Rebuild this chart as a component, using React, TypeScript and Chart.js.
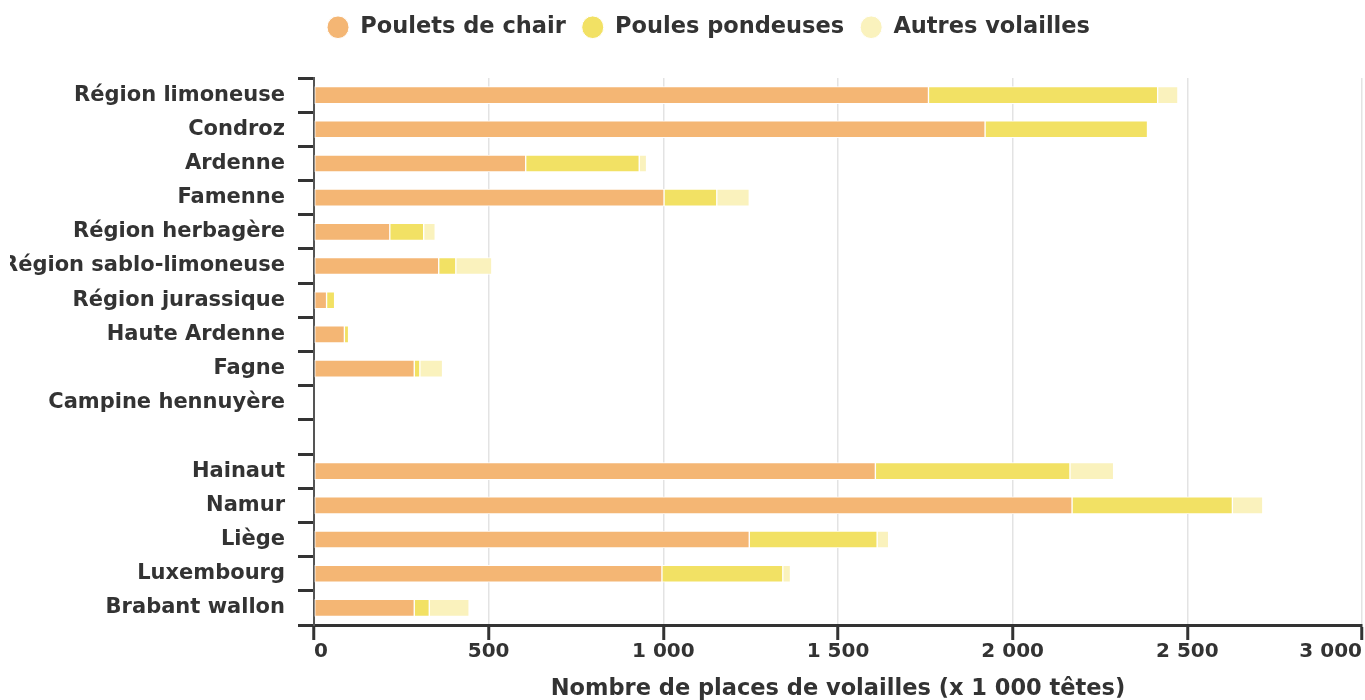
import React, { useEffect, useRef } from 'react';
import { Chart, registerables } from 'chart.js';

Chart.register(...registerables);

const categories = [
  'Région limoneuse',
  'Condroz',
  'Ardenne',
  'Famenne',
  'Région herbagère',
  'Région sablo-limoneuse',
  'Région jurassique',
  'Haute Ardenne',
  'Fagne',
  'Campine hennuyère',
  '',
  'Hainaut',
  'Namur',
  'Liège',
  'Luxembourg',
  'Brabant wallon',
];

const pouletsDeChair = [1759, 1921, 606, 1002, 217, 357, 36, 87, 287, 0, null, 1607, 2170, 1246, 996, 287];
const poulesPondeuses = [656, 465, 325, 151, 97, 49, 23, 12, 16, 0, null, 557, 459, 366, 346, 43];
const autresVolailles = [58, 0, 21, 93, 33, 103, 0, 0, 65, 0, null, 125, 87, 33, 22, 114];

const seriesNames = ['Poulets de chair', 'Poules pondeuses', 'Autres volailles'];
const seriesColors = ['#f4b674', '#f2e164', '#faf2bd'];

const xMin = 0;
const xMax = 3000;
const xStep = 500;
const xTitle = 'Nombre de places de volailles (x 1 000 têtes)';

const FONT = "'DejaVu Sans', sans-serif";
const TEXT = '#333333';

const formatThousands = (v: number) => String(v).replace(/\B(?=(\d{3})+(?!\d))/g, ' ');

const legendTweaks = {
  id: 'legendTweaks',
  beforeInit(chart: any) {
    const legend = chart.legend;
    if (!legend) return;
    const orig = legend.fit;
    legend.fit = function () {
      orig.bind(legend)();
      this.height += 29.5;
    };
  },
  afterLayout(chart: any) {
    const legend = chart.legend;
    if (!legend) return;
    legend.left += 22.5;
    legend.right += 22.5;
  },
};

export default function App() {
  const ref = useRef<HTMLCanvasElement | null>(null);

  useEffect(() => {
    if (!ref.current) return;
    const values = [pouletsDeChair, poulesPondeuses, autresVolailles];
    const chart = new Chart(ref.current, {
      type: 'bar',
      data: {
        labels: categories,
        datasets: values.map((d, i) => ({
          label: seriesNames[i],
          data: d,
          backgroundColor: seriesColors[i],
          borderColor: '#ffffff',
          borderWidth: 1,
          borderSkipped: false,
          barThickness: 17,
        })),
      },
      options: {
        indexAxis: 'y',
        animation: false,
        responsive: true,
        maintainAspectRatio: false,
        layout: { padding: { left: 0, right: 3, top: 0, bottom: 0 } },
        plugins: {
          legend: {
            position: 'top',
            align: 'center',
            labels: {
              usePointStyle: true,
              pointStyle: 'circle',
              boxHeight: 16,
              pointStyleWidth: 22,
              padding: 16,
              color: TEXT,
              font: { family: FONT, size: 22.5, weight: 'bold' },
            },
          },
          tooltip: { enabled: false },
        },
        scales: {
          x: {
            type: 'linear',
            stacked: true,
            min: xMin,
            max: xMax,
            afterFit(scale: any) {
              scale.height = 75;
            },
            ticks: {
              stepSize: xStep,
              align: 'inner',
              padding: 0,
              color: TEXT,
              font: { family: FONT, size: 20, weight: 'bold' },
              callback: (v: any) => formatThousands(Number(v)),
            },
            grid: {
              color: '#e3e3e3',
              lineWidth: 1.5,
              tickColor: TEXT,
              tickWidth: 3,
              tickLength: 15,
            },
            border: { display: true, color: TEXT, width: 3 },
            title: {
              display: true,
              text: xTitle,
              color: TEXT,
              font: { family: FONT, size: 22.5, weight: 'bold', lineHeight: 1 },
              padding: { top: 0, bottom: 0 },
            },
          },
          y: {
            type: 'category',
            stacked: true,
            afterFit(scale: any) {
              scale.width = 304;
            },
            ticks: {
              autoSkip: false,
              padding: 13,
              color: TEXT,
              font: { family: FONT, size: 21, weight: 'bold' },
            },
            grid: {
              offset: true,
              drawOnChartArea: false,
              drawTicks: true,
              tickLength: 16,
              tickWidth: 3,
              tickColor: TEXT,
            },
            border: { display: true, color: '#555555', width: 2 },
          },
        },
      },
      plugins: [legendTweaks],
    } as any);
    return () => chart.destroy();
  }, []);

  return (
    <div style={{ position: 'absolute', left: 10, top: 0, width: 1355, height: 700 }}>
      <canvas ref={ref} />
    </div>
  );
}
